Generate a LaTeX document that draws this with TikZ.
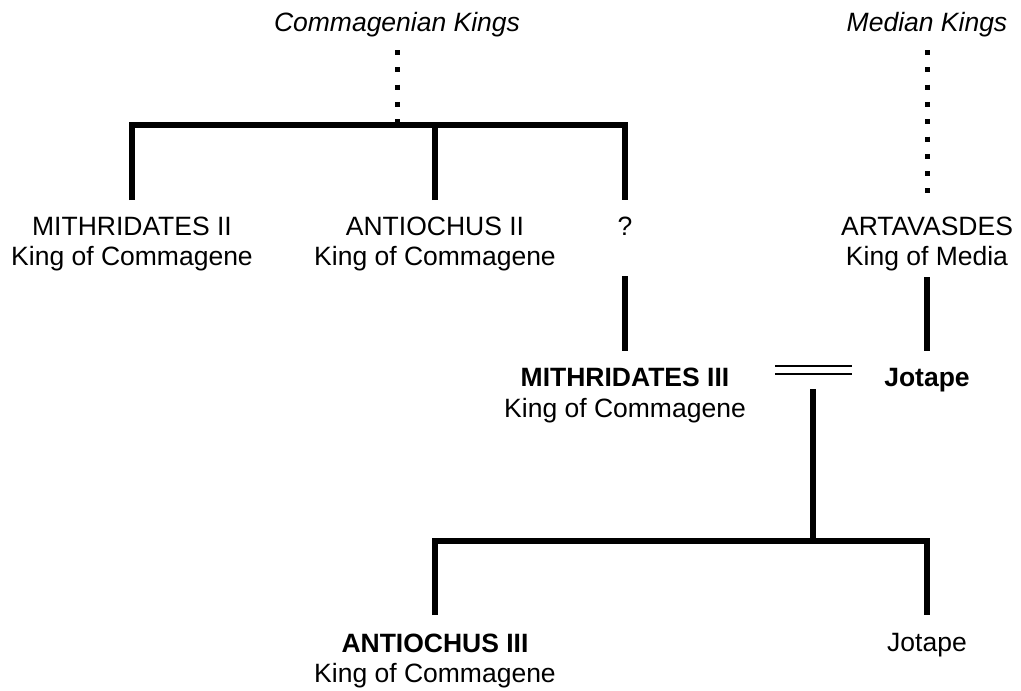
\documentclass[tikz,border=0pt]{standalone}
\usepackage{fontspec}
\setmainfont{Liberation Sans}
\begin{document}
\begin{tikzpicture}[x=1pt,y=-1pt,
  every node/.style={inner sep=0pt, outer sep=0pt, anchor=base,
    font=\fontsize{26.5pt}{31pt}\selectfont},
  ruler/.style={text height=19pt, text depth=0pt},
  royal/.style={ruler, font=\fontsize{26.5pt}{31pt}\selectfont\bfseries},
  subtitle/.style={text height=19pt, text depth=6pt},
  dynasty/.style={font=\fontsize{26.5pt}{31pt}\selectfont\itshape,
    text height=19pt, text depth=6pt},
  descent/.style={line width=5.5pt, line join=miter, line cap=butt},
  lineage/.style={line width=5pt, dash pattern=on 5pt off 12.3pt},
  marriage/.style={line width=1.8pt, double distance=6pt}
]
\useasboundingbox (0,0) rectangle (1021,691);

% dynasties
\node[dynasty] (ck) at (397,31) {Commagenian Kings};
\node[dynasty] (mk) at (927,31) {Median Kings};

% first generation
\node[ruler] (m2) at (132,235) {MITHRIDATES II};
\node[subtitle] (m2s) at (132,265) {King of Commagene};
\node[ruler] (a2) at (435,235) {ANTIOCHUS II};
\node[subtitle] (a2s) at (435,265) {King of Commagene};
\node[ruler] (q) at (625,235) {?};
\node[ruler] (ar) at (927,235) {ARTAVASDES};
\node[subtitle] (ars) at (927,265) {King of Media};

% the couple
\node[royal] (m3) at (625,386) {MITHRIDATES III};
\node[subtitle] (m3s) at (625,417) {King of Commagene};
\node[royal] (jo) at (927,386) {Jotape};

% their children
\node[royal] (a3) at (435,652) {ANTIOCHUS III};
\node[subtitle] (a3s) at (435,682) {King of Commagene};
\node[ruler] (jo2) at (927,651) {Jotape};

% junction points
\coordinate (cj) at (397,125);
\coordinate (ml) at (775,370);
\coordinate (mr) at (852,370);
\coordinate (mc) at (813,370);
\coordinate (mj) at (813,541);

% uncertain descent
\draw[lineage] ([yshift=-13pt]ck.south) -- (cj);
\draw[lineage] ([yshift=-13pt]mk.south) -- ([yshift=23pt]ar.north);

% sons of the Commagenian line
\draw[descent] ([yshift=16pt]m2.north) |- (cj) -| ([yshift=16pt]q.north);
\draw[descent] ([yshift=16pt]a2.north) -- (a2.north |- cj);

% parents of the couple
\draw[descent] ([yshift=-41pt]q.south) -- ([yshift=16pt]m3.north);
\draw[descent] ([yshift=-6pt]ars.south) -- ([yshift=16pt]jo.north);

% marriage and offspring
\draw[marriage] (ml) -- (mr);
\draw[descent] ([yshift=-19pt]mc) -- (mj);
\draw[descent] ([yshift=18pt]a3.north) |- (mj) -| ([yshift=17pt]jo2.north);
\end{tikzpicture}
\end{document}
